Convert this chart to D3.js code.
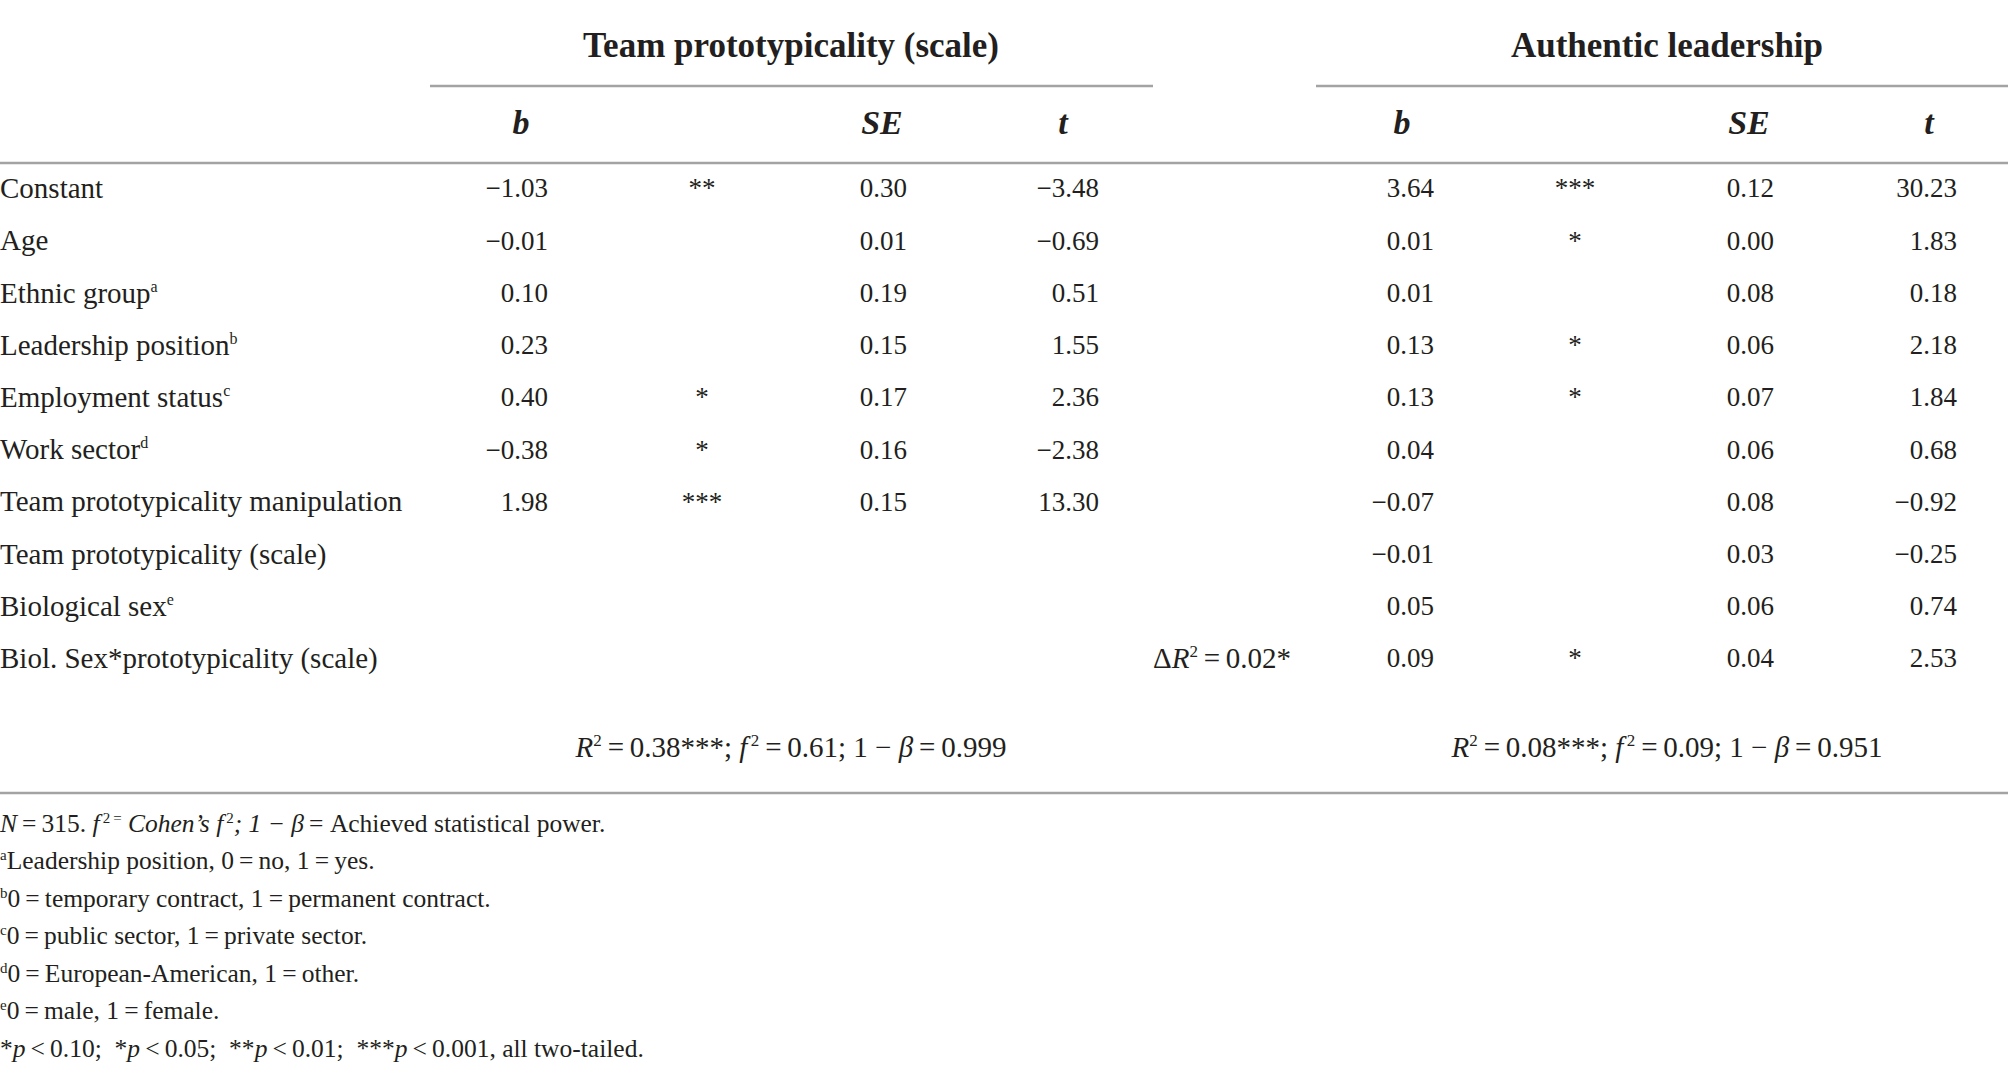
<!DOCTYPE html>
<html>
<head>
<meta charset="utf-8">
<script src="https://cdn.jsdelivr.net/npm/d3@7"></script>
<style>
  body { margin: 0; background: #fff; }
  svg text { font-family: "Liberation Serif", "Times New Roman", serif; fill: #231f20; }
</style>
</head>
<body>
<svg id="table" width="2008" height="1077"></svg>
<script>
// row labels + footnote markers
const labels = ["Constant", "Age", "Ethnic group", "Leadership position", "Employment status",
  "Work sector", "Team prototypicality manipulation", "Team prototypicality (scale)",
  "Biological sex", "Biol. Sex*prototypicality (scale)"];
const labelSup = ["", "", "a", "b", "c", "d", "", "", "e", ""];

// model 1: team prototypicality (scale)
const teamB   = [-1.03, -0.01, 0.10, 0.23, 0.40, -0.38, 1.98, null, null, null];
const teamSig = ["**", "", "", "", "*", "*", "***", "", "", ""];
const teamSE  = [0.30, 0.01, 0.19, 0.15, 0.17, 0.16, 0.15, null, null, null];
const teamT   = [-3.48, -0.69, 0.51, 1.55, 2.36, -2.38, 13.30, null, null, null];

// model 2: authentic leadership
const authB   = [3.64, 0.01, 0.01, 0.13, 0.13, 0.04, -0.07, -0.01, 0.05, 0.09];
const authSig = ["***", "*", "", "*", "*", "", "", "", "", "*"];
const authSE  = [0.12, 0.00, 0.08, 0.06, 0.07, 0.06, 0.08, 0.03, 0.06, 0.04];
const authT   = [30.23, 1.83, 0.18, 2.18, 1.84, 0.68, -0.92, -0.25, 0.74, 2.53];

const groupTitles = ["Team prototypicality (scale)", "Authentic leadership"];
const colHeads = ["b", "SE", "t"];
const deltaR2 = "0.02*";
const r2 = ["0.38***", "0.08***"];
const f2 = ["0.61", "0.09"];
const power = ["0.999", "0.951"];

const svg = d3.select("#table");
const lineColor = "#a3a3a3";
const fsLab = 29;   // row labels
const fsNum = 27;   // numbers
const fsNote = 25.5;

// minus sign instead of hyphen, with a hair of room after it
const fmt = v => v == null ? "" : d3.format(".2f")(v).replace("-", "\u2212\u2009");

// rows through a point scale (centres), baseline = centre + 0.35em
const y = d3.scalePoint().domain(d3.range(labels.length)).range([188, 658]);
const base = (c, fs) => c + 0.35 * fs;

// column layout: [b right edge, star center, SE right edge, t right edge]
const groups = [
  { title: groupTitles[0], cx: 791, line: [430, 1153], heads: [521, 882, 1063],
    b: teamB, sig: teamSig, se: teamSE, t: teamT, cols: [548, 702, 907, 1099] },
  { title: groupTitles[1], cx: 1667, line: [1316, 2008], heads: [1402, 1749, 1929],
    b: authB, sig: authSig, se: authSE, t: authT, cols: [1434, 1575, 1774, 1957] }
];

// horizontal rules
function rule(x1, x2, yy) {
  svg.append("line").attr("x1", x1).attr("x2", x2).attr("y1", yy).attr("y2", yy)
    .attr("stroke", lineColor).attr("stroke-width", 2.5);
}
rule(0, 2008, 163);
rule(0, 2008, 793);

groups.forEach(g => {
  svg.append("text").attr("x", g.cx).attr("y", base(45, 35))
    .attr("text-anchor", "middle").attr("font-size", 35).attr("font-weight", "bold")
    .text(g.title);
  rule(g.line[0], g.line[1], 86);

  svg.selectAll(null).data(colHeads).join("text")
    .attr("x", (d, i) => g.heads[i]).attr("y", base(122, 34))
    .attr("text-anchor", "middle").attr("font-size", 34)
    .attr("font-weight", "bold").attr("font-style", "italic")
    .text(d => d);

  const cells = [
    { vals: g.b.map(fmt), x: g.cols[0], anchor: "end" },
    { vals: g.sig, x: g.cols[1], anchor: "middle" },
    { vals: g.se.map(fmt), x: g.cols[2], anchor: "end" },
    { vals: g.t.map(fmt), x: g.cols[3], anchor: "end" }
  ];
  cells.forEach(c => {
    svg.selectAll(null).data(c.vals).join("text")
      .attr("x", c.x).attr("y", (d, i) => base(y(i), fsNum))
      .attr("text-anchor", c.anchor).attr("font-size", fsNum)
      .text(d => d);
  });
});

// row labels
const lab = svg.selectAll(null).data(labels).join("text")
  .attr("x", 0).attr("y", (d, i) => base(y(i), fsLab)).attr("font-size", fsLab);
lab.append("tspan").text(d => d);
lab.append("tspan").attr("font-size", 16).attr("dy", -11)
  .text((d, i) => labelSup[i]);

// delta R2 on the interaction row
const dr = svg.append("text").attr("x", 1153).attr("y", base(y(labels.length - 1), fsLab))
  .attr("font-size", fsLab);
dr.append("tspan").text("\u0394");
dr.append("tspan").attr("font-style", "italic").text("R");
dr.append("tspan").attr("font-size", 17).attr("dy", -11).text("2");
dr.append("tspan").attr("dy", 11).text("\u2009=\u2009" + deltaR2);

// model fit line
groups.forEach((g, k) => {
  const s = svg.append("text").attr("x", g.cx).attr("y", base(747, fsLab))
    .attr("text-anchor", "middle").attr("font-size", fsLab);
  s.append("tspan").attr("font-style", "italic").text("R");
  s.append("tspan").attr("font-size", 17).attr("dy", -11).text("2");
  s.append("tspan").attr("dy", 11).text("\u2009=\u2009" + r2[k] + "; ");
  s.append("tspan").attr("font-style", "italic").text("f");
  s.append("tspan").attr("font-size", 17).attr("dy", -11).text("\u20092");
  s.append("tspan").attr("dy", 11).text("\u2009=\u2009" + f2[k] + "; 1 \u2212 ");
  s.append("tspan").attr("font-style", "italic").text("\u03b2");
  s.append("tspan").text("\u2009=\u2009" + power[k]);
});

// notes: each is a list of [text, style] pieces
const notes = [
  [["N", "i"], ["\u2009=\u2009315. ", ""], ["f", "i"], ["\u20092\u2009=", "s"], [" Cohen\u2019s f", "i"], ["\u20092", "s"], ["; 1 \u2212 \u03b2", "i"], ["\u2009= Achieved statistical power.", ""]],
  [["a", "s"], ["Leadership position, 0\u2009=\u2009no, 1\u2009=\u2009yes.", ""]],
  [["b", "s"], ["0\u2009=\u2009temporary contract, 1\u2009=\u2009permanent contract.", ""]],
  [["c", "s"], ["0\u2009=\u2009public sector, 1\u2009=\u2009private sector.", ""]],
  [["d", "s"], ["0\u2009=\u2009European-American, 1\u2009=\u2009other.", ""]],
  [["e", "s"], ["0\u2009=\u2009male, 1\u2009=\u2009female.", ""]],
  [["*", ""], ["p", "i"], ["\u2009<\u20090.10;  *", ""], ["p", "i"], ["\u2009<\u20090.05;  **", ""], ["p", "i"], ["\u2009<\u20090.01;  ***", ""], ["p", "i"], ["\u2009<\u20090.001, all two-tailed.", ""]]
];
const ny = d3.scaleLinear().domain([0, notes.length - 1]).range([823, 1048]);

notes.forEach((parts, i) => {
  const t = svg.append("text").attr("x", 0).attr("y", base(ny(i), fsNote))
    .attr("font-size", fsNote).attr("xml:space", "preserve");
  let up = false;
  parts.forEach(([txt, st]) => {
    const sp = t.append("tspan").text(txt);
    if (st === "i") sp.attr("font-style", "italic");
    if (st === "s") { sp.attr("font-size", 15); if (!up) sp.attr("dy", -9); up = true; }
    else if (up) { sp.attr("dy", 9); up = false; }
  });
});
</script>
</body>
</html>
